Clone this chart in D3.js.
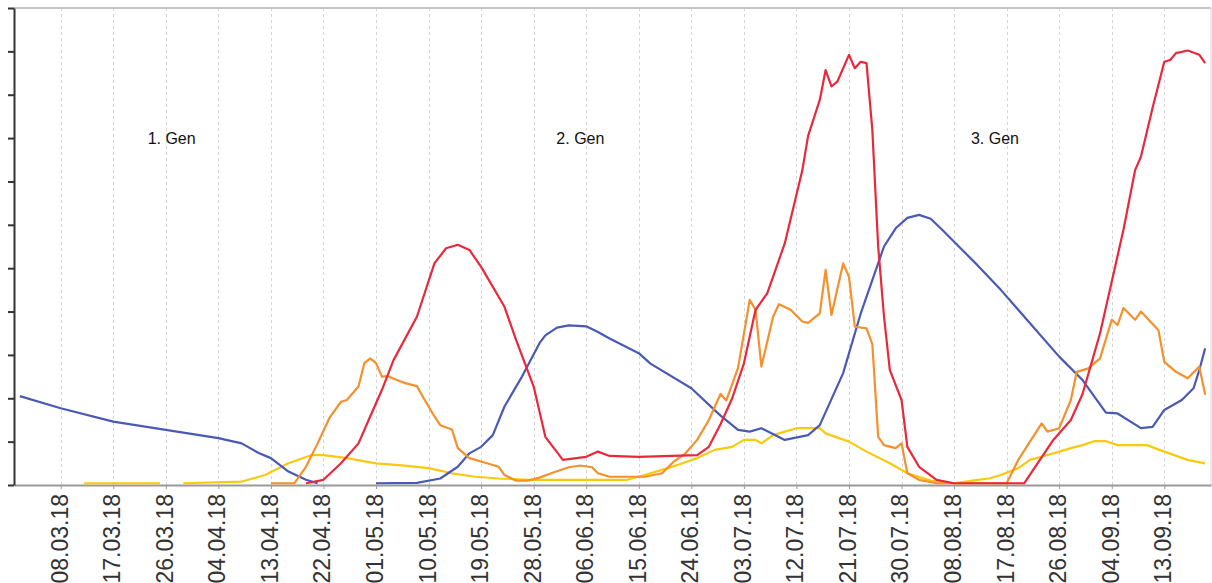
<!DOCTYPE html>
<html>
<head>
<meta charset="utf-8">
<script src="https://cdn.jsdelivr.net/npm/d3@7"></script>
<style>
  html, body { margin: 0; padding: 0; background: #fff; }
  svg { display: block; }
</style>
</head>
<body>
<svg id="chart" width="1212" height="583"></svg>
<script>
// Tick labels on the time axis (every 9 days)
const tickLabels = ["08.03.18","17.03.18","26.03.18","04.04.18","13.04.18","22.04.18",
  "01.05.18","10.05.18","19.05.18","28.05.18","06.06.18","15.06.18","24.06.18",
  "03.07.18","12.07.18","21.07.18","30.07.18","08.08.18","17.08.18","26.08.18",
  "04.09.18","13.09.18"];

// Generation labels
const genLabels = ["1. Gen", "2. Gen", "3. Gen"];
const genDates = ["2018-03-27", "2018-06-05", "2018-08-15"];
const genLevel = 80;

// Series values: [date, value]; null marks missing data
const blueSeries = [
  ["2018-03-01",20.5],["2018-03-08",17.7],["2018-03-17",14.6],["2018-03-26",12.7],
  ["2018-04-04",10.8],["2018-04-08",9.6],["2018-04-11",7.3],["2018-04-13",6.2],
  ["2018-04-16",3.1],["2018-04-19",1.2],["2018-04-21",0.4],["2018-04-26",null],
  ["2018-05-01",0.4],["2018-05-08",0.5],["2018-05-12",1.5],["2018-05-15",4.2],
  ["2018-05-17",7.3],["2018-05-19",8.8],["2018-05-21",11.5],["2018-05-23",18.1],
  ["2018-05-26",25.0],["2018-05-29",32.7],["2018-05-30",34.5],["2018-06-01",36.3],
  ["2018-06-03",36.8],["2018-06-06",36.6],["2018-06-08",35.3],["2018-06-10",33.8],
  ["2018-06-15",30.4],["2018-06-17",28.0],["2018-06-24",22.3],
  ["2018-06-29",16.0],["2018-07-02",12.7],["2018-07-04",12.3],["2018-07-06",13.1],
  ["2018-07-10",10.4],["2018-07-14",11.5],["2018-07-16",13.8],["2018-07-20",25.8],
  ["2018-07-23",39.5],["2018-07-27",55.0],["2018-07-29",59.2],["2018-07-31",61.6],
  ["2018-08-02",62.3],["2018-08-04",61.4],["2018-08-06",58.8],["2018-08-12",50.7],
  ["2018-08-16",45.0],["2018-08-21",37.3],
  ["2018-08-26",29.6],["2018-08-30",24.2],["2018-09-03",16.7],["2018-09-05",16.5],
  ["2018-09-09",13.1],["2018-09-11",13.4],["2018-09-13",17.3],["2018-09-16",19.6],
  ["2018-09-18",22.3],["2018-09-19",26.5],["2018-09-20",31.5]
];

const redSeries = [
  ["2018-04-19",0.4],["2018-04-22",1.2],["2018-04-25",5.0],["2018-04-28",9.6],
  ["2018-04-30",15.8],["2018-05-02",21.9],["2018-05-04",28.8],["2018-05-08",38.8],
  ["2018-05-11",51.1],["2018-05-13",54.6],["2018-05-15",55.4],["2018-05-17",54.2],
  ["2018-05-19",50.3],["2018-05-23",41.1],["2018-05-25",33.4],["2018-05-28",22.7],
  ["2018-05-30",11.1],["2018-06-02",5.8],["2018-06-06",6.5],["2018-06-08",7.7],
  ["2018-06-10",6.7],["2018-06-15",6.5],["2018-06-25",6.9],["2018-06-27",8.8],
  ["2018-06-29",14.0],["2018-07-01",20.0],["2018-07-03",28.0],["2018-07-05",40.4],
  ["2018-07-07",44.2],["2018-07-10",55.7],["2018-07-13",72.5],["2018-07-14",80.5],
  ["2018-07-16",88.8],["2018-07-17",95.7],["2018-07-18",91.9],["2018-07-19",93.0],
  ["2018-07-21",99.2],["2018-07-22",96.1],["2018-07-23",97.6],["2018-07-24",97.3],
  ["2018-07-25",81.9],["2018-07-26",55.0],["2018-07-27",38.8],["2018-07-28",26.5],
  ["2018-07-30",19.6],["2018-07-31",8.8],["2018-08-02",4.2],["2018-08-05",1.2],
  ["2018-08-08",0.4],["2018-08-20",0.4],["2018-08-25",10.4],["2018-08-28",15.0],
  ["2018-08-30",21.0],["2018-09-02",35.0],["2018-09-06",58.8],["2018-09-08",72.6],
  ["2018-09-09",75.7],["2018-09-11",87.0],["2018-09-13",97.6],["2018-09-14",98.0],
  ["2018-09-15",99.6],["2018-09-17",100.2],["2018-09-19",99.2],["2018-09-20",97.3]
];

const orangeSeries = [
  ["2018-04-13",0.4],["2018-04-17",0.4],["2018-04-19",4.2],["2018-04-21",9.6],
  ["2018-04-23",15.4],["2018-04-25",19.2],["2018-04-26",19.6],["2018-04-28",22.7],
  ["2018-04-29",28.1],["2018-04-30",29.2],["2018-05-01",28.1],["2018-05-02",25.0],
  ["2018-05-03",25.1],["2018-05-05",24.0],["2018-05-06",23.5],["2018-05-08",22.8],
  ["2018-05-09",20.4],["2018-05-11",15.8],["2018-05-12",13.8],["2018-05-14",12.8],
  ["2018-05-15",8.5],["2018-05-17",6.2],["2018-05-20",5.0],["2018-05-22",4.2],
  ["2018-05-23",2.3],["2018-05-25",1.0],["2018-05-27",1.0],["2018-05-29",1.7],
  ["2018-05-31",2.7],["2018-06-03",4.1],["2018-06-05",4.5],["2018-06-07",4.1],
  ["2018-06-08",2.7],["2018-06-10",1.9],["2018-06-16",1.9],["2018-06-19",2.7],
  ["2018-06-21",5.4],["2018-06-23",7.3],["2018-06-25",10.4],["2018-06-27",15.0],
  ["2018-06-29",21.0],["2018-06-30",19.5],["2018-07-02",27.0],["2018-07-04",42.7],
  ["2018-07-05",40.4],["2018-07-06",27.3],["2018-07-08",38.8],["2018-07-09",41.7],
  ["2018-07-11",40.4],["2018-07-13",37.7],["2018-07-14",37.4],["2018-07-16",39.6],
  ["2018-07-17",49.6],["2018-07-18",39.2],["2018-07-20",51.1],["2018-07-21",48.0],
  ["2018-07-22",36.5],["2018-07-24",36.1],["2018-07-25",32.5],["2018-07-26",11.1],
  ["2018-07-27",9.2],["2018-07-29",8.5],["2018-07-30",9.6],["2018-07-31",2.7],
  ["2018-08-02",1.2],["2018-08-05",0.4],["2018-08-17",0.4],["2018-08-19",5.8],
  ["2018-08-23",14.2],["2018-08-24",12.3],["2018-08-26",13.1],["2018-08-28",19.6],
  ["2018-08-29",26.1],["2018-08-31",26.9],["2018-09-02",29.2],["2018-09-04",38.1],
  ["2018-09-05",36.9],["2018-09-06",40.8],["2018-09-08",38.1],["2018-09-09",40.0],
  ["2018-09-12",35.7],["2018-09-13",28.4],["2018-09-15",26.1],["2018-09-17",24.6],
  ["2018-09-19",27.3],["2018-09-20",20.8]
];

const yellowSeries = [
  ["2018-03-12",0.4],["2018-03-25",0.4],["2018-03-27",null],["2018-03-29",0.4],
  ["2018-04-08",0.8],["2018-04-12",2.3],["2018-04-16",5.0],["2018-04-20",6.9],
  ["2018-04-22",6.9],["2018-04-26",6.2],["2018-05-01",5.0],["2018-05-05",4.6],
  ["2018-05-10",3.9],["2018-05-14",2.7],["2018-05-18",1.9],["2018-05-22",1.5],
  ["2018-05-27",1.2],["2018-06-13",1.2],["2018-06-16",2.3],["2018-06-20",3.9],
  ["2018-06-22",4.8],["2018-06-25",6.2],["2018-06-28",8.1],["2018-07-01",8.8],
  ["2018-07-03",10.4],["2018-07-05",10.4],["2018-07-06",9.6],["2018-07-08",11.5],
  ["2018-07-12",13.1],["2018-07-16",13.1],["2018-07-17",11.9],["2018-07-21",10.0],
  ["2018-07-24",7.7],["2018-07-28",5.0],["2018-07-31",2.7],["2018-08-04",1.0],
  ["2018-08-08",0.4],["2018-08-12",1.2],["2018-08-14",1.5],["2018-08-16",2.3],
  ["2018-08-19",3.9],["2018-08-21",5.8],["2018-08-23",6.5],["2018-08-26",7.7],
  ["2018-08-28",8.5],["2018-08-30",9.2],["2018-09-01",10.1],["2018-09-03",10.1],
  ["2018-09-05",9.2],["2018-09-10",9.2],["2018-09-13",7.7],["2018-09-17",5.8],
  ["2018-09-20",5.0]
];

const seriesColors = ["#f9c90f", "#4a5ab4", "#f5902c", "#e9283b"];

const svg = d3.select("#chart");
const plotLeft = 14, plotRight = 1211, plotTop = 8, plotBottom = 485;

const parseISO = d3.timeParse("%Y-%m-%d");
const parseTick = d3.timeParse("%d.%m.%y");
const fmtTick = d3.timeFormat("%d.%m.%y");

const x = d3.scaleTime()
  .domain([parseISO("2018-02-28"), parseISO("2018-09-21")])
  .range([plotLeft, plotRight]);
const y = d3.scaleLinear().domain([0, 110]).range([plotBottom, plotTop]);

const tickDates = tickLabels.map(parseTick);

// vertical dashed grid
svg.append("g").selectAll("line").data(tickDates).join("line")
  .attr("x1", d => Math.round(x(d)) + 0.5).attr("x2", d => Math.round(x(d)) + 0.5)
  .attr("y1", plotTop).attr("y2", plotBottom)
  .attr("stroke", "#d4d4d4").attr("stroke-width", 1)
  .attr("stroke-dasharray", "3,3");

// frame: top and right edges
svg.append("line").attr("x1", plotLeft).attr("x2", plotRight).attr("y1", plotTop).attr("y2", plotTop)
  .attr("stroke", "#c4c4c4").attr("stroke-width", 2);
svg.append("line").attr("x1", plotRight).attr("x2", plotRight).attr("y1", plotTop).attr("y2", plotBottom)
  .attr("stroke", "#d8d8d8").attr("stroke-width", 1);

// bottom axis
const xAxis = d3.axisBottom(x).tickValues(tickDates).tickFormat(fmtTick)
  .tickSize(4).tickSizeOuter(0);
const gx = svg.append("g").attr("transform", `translate(0,${plotBottom})`).call(xAxis);
gx.select(".domain").attr("stroke", "#9a9a9a").attr("stroke-width", 2);
gx.selectAll(".tick line").attr("stroke", "#9a9a9a");
gx.selectAll(".tick text")
  .attr("font-family", "'Liberation Sans', Arial, sans-serif")
  .attr("font-size", 23)
  .attr("fill", "#333")
  .attr("text-anchor", "end")
  .attr("transform", "rotate(-90)")
  .attr("x", -9).attr("y", 0).attr("dy", "0.28em");

// left axis, ticks only
const yAxis = d3.axisLeft(y).tickValues(d3.range(0, 111, 10)).tickFormat("")
  .tickSize(6).tickSizeOuter(0);
const gy = svg.append("g").attr("transform", `translate(${plotLeft},0)`).call(yAxis);
gy.select(".domain").attr("stroke", "#333").attr("stroke-width", 2);
gy.selectAll(".tick line").attr("stroke", "#333").attr("stroke-width", 2);

// generation labels
svg.append("g").selectAll("text").data(genLabels).join("text")
  .attr("x", (d, i) => x(parseISO(genDates[i])))
  .attr("y", y(genLevel))
  .attr("dy", "0.35em")
  .attr("text-anchor", "middle")
  .attr("font-family", "'Liberation Sans', Arial, sans-serif")
  .attr("font-size", 16)
  .attr("fill", "#111")
  .text(d => d);

// lines
const line = d3.line()
  .defined(d => d[1] !== null)
  .x(d => x(parseISO(d[0])))
  .y(d => y(d[1]))
  .curve(d3.curveLinear);

const allSeries = [yellowSeries, blueSeries, orangeSeries, redSeries];
svg.append("g").selectAll("path").data(allSeries).join("path")
  .attr("d", line)
  .attr("fill", "none")
  .attr("stroke", (d, i) => seriesColors[i])
  .attr("stroke-width", 2.2)
  .attr("stroke-linejoin", "round");
</script>
</body>
</html>
